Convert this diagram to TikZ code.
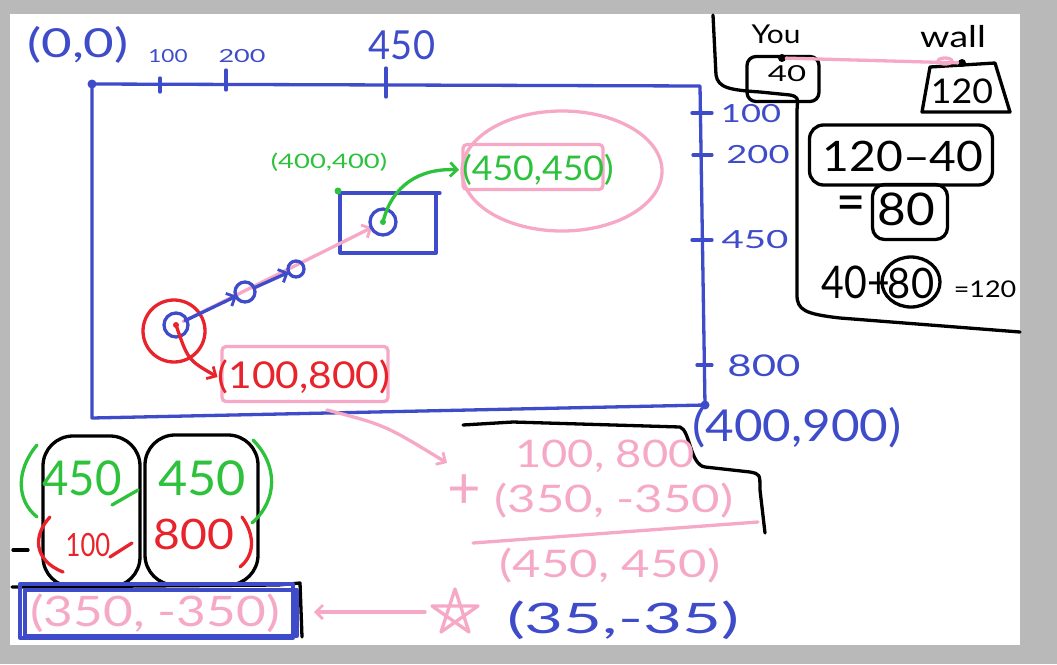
\documentclass[tikz,border=0pt]{standalone}
\usepackage{fontspec}
\setmainfont{Lato}
\usetikzlibrary{arrows.meta}
\definecolor{cblue}{RGB}{63,76,201}
\definecolor{cred}{RGB}{232,35,43}
\definecolor{cgreen}{RGB}{45,193,60}
\definecolor{cpink}{RGB}{246,169,198}
\definecolor{cgray}{RGB}{185,185,185}
\newcommand\hw[3]{\scalebox{#2}[1]{\fontsize{#1}{#1}\selectfont #3}}
\begin{document}
\begin{tikzpicture}[x=1pt,y=-1pt,
 pen/.style={line width=3.3pt,line cap=round,line join=round},
 bl/.style={pen,draw=cblue}, rd/.style={pen,draw=cred}, gr/.style={pen,draw=cgreen},
 pk/.style={pen,draw=cpink}, bk/.style={pen,draw=black},
 t/.style={inner sep=0pt,anchor=center},
 tb/.style={t,text=cblue}, tr/.style={t,text=cred}, tg/.style={t,text=cgreen},
 tp/.style={t,text=cpink}, tk/.style={t,text=black},
 barb/.style={-{Straight Barb[length=7pt,width=14pt,line width=2.8pt]}},
 dot/.style={circle,inner sep=0pt,minimum size=9pt},
]
\fill[cgray] (0,0) rectangle (1057,664);
\fill[white] (10,14) rectangle (1020,645);
\useasboundingbox (0,0) rectangle (1057,664);

% ---------- main frame ----------
\node[dot,fill=cblue] (origin) at (92,84) {};
\node[dot,fill=cblue] (corner) at (705,405) {};
\draw[bl] (origin.center) -- (700,86) -- (corner.center) -- (92,418) -- cycle;
\node[tb] (l00) at (78,45) {\hw{40}{1.32}{(0,0)}};
\node[tb] (lx100) at (168,56) {\hw{18}{1.25}{100}};
\node[tb] (lx200) at (242,56) {\hw{18}{1.5}{200}};
\node[tb] (lx450) at (402,45) {\hw{40}{0.95}{450}};
\draw[bl] (160,78) -- (160,92);
\draw[bl] (226,70) -- (226,90);
\draw[bl] (386,68) -- (386,97);
\draw[bl] (692,113) -- (712,113);
\draw[bl] (693,155) -- (712,155);
\draw[bl] (692,240) -- (712,240);
\draw[bl] (697,365) -- (712,365);
\node[tb] (ly100) at (751,114) {\hw{25}{1.38}{100}};
\node[tb] (ly200) at (758,155) {\hw{25}{1.45}{200}};
\node[tb] (ly450) at (755,240) {\hw{25}{1.54}{450}};
\node[tb] (ly800) at (764,366) {\hw{30}{1.4}{800}};
\node[tb] (l900) at (797,428) {\hw{44}{1.12}{(400,900)}};

% ---------- inner target box ----------
\draw[bl] (340,193) -- (440,193);
\draw[bl] (436,193) -- (436,253) -- (340,253) -- (340,193);
\coordinate (s) at (176,325);
\coordinate (c1) at (245,292);
\coordinate (c2) at (296,269);
\coordinate (tgt) at (383,222);
\draw[pk,barb,shorten <=8pt,shorten >=12pt] (s) -- (tgt);
\draw[rd] (174,331) circle[radius=31];
\draw[bl] (s) circle[radius=12];
\draw[bl] (c1) circle[radius=10];
\draw[bl] (c2) circle[radius=8];
\draw[bl] (tgt) circle[radius=13];
\draw[bl,barb,shorten <=10pt,shorten >=9pt] (s) -- (c1);
\draw[bl,barb,shorten <=10pt,shorten >=8pt] (c1) -- (c2);
\fill[cred] (s) circle[radius=3];
\fill[cgreen] (tgt) circle[radius=3];

% red start label
\node[draw=cpink,pen,rounded corners=4pt,minimum width=166pt,minimum height=55pt] (pkbox1) at (305,374) {};
\node[tr] (r800) at (304,377) {\hw{37}{1.1}{(100,800)}};
\draw[rd,barb] (s) .. controls (188,360) .. (r800.west);

% green labels
\node[dot,fill=cgreen,minimum size=7pt] (g400d) at (338,191) {};
\node[tg] (g400) at (329,162) {\hw{20}{1.37}{(400,400)}};
\draw[pk] (562,171) ellipse[x radius=100,y radius=60];
\node[draw=cpink,pen,rounded corners=4pt,minimum width=140pt,minimum height=45pt] (pkbox2) at (533,167) {};
\node[tg] (g450) at (538,170) {\hw{34}{1.05}{(450,450)}};
\draw[gr,barb,shorten >=3pt] (tgt) .. controls (392,185) and (420,168) .. (g450.west);

% ---------- right panel ----------
\draw[bk] (713,15) -- (716,75) .. controls (718,88) and (730,90) .. (760,92) -- (790,95)
  .. controls (798,97) .. (797,110) -- (797,295) .. controls (797,310) and (805,314) .. (840,318) -- (1020,332);
\node[tk] (you) at (776,34) {\hw{26}{1.15}{You}};
\node[tk] (wall) at (953,37) {\hw{30}{1.25}{wall}};
\node[draw,pen,rounded corners=9pt,minimum width=72pt,minimum height=45pt] (b40) at (783,79) {};
\node[tk] (n40) at (787,74) {\hw{22}{1.5}{40}};
\draw[bk] (930,67) -- (995,63) -- (1010,112) -- (922,112) -- cycle;
\node[tk] (n120) at (962,91) {\hw{34}{1.05}{120}};
\node[dot,fill=black,minimum size=8pt] (d40) at (782,58) {};
\node[dot,fill=black,minimum size=8pt] (dw) at (962,63) {};
\draw[pk] (d40) -- (dw);
\draw[pk] (945,61) ellipse[x radius=7,y radius=3];
\node[draw,pen,rounded corners=14pt,minimum width=183pt,minimum height=60pt] (bsub) at (901,155) {};
\node[tk] (sub) at (903,156) {\hw{42}{1.1}{120–40}};
\node[draw,pen,rounded corners=12pt,minimum width=75pt,minimum height=55pt] (b80) at (910,212) {};
\node[tk] (eq) at (851,209) {\hw{56}{0.9}{=}};
\node[tk] (n80) at (906,209) {\hw{45}{1.1}{80}};
\node[tk] (n40p) at (856,282) {\hw{45}{0.87}{40+}};
\draw[bk] (911,282) ellipse[x radius=29,y radius=25];
\node[tk] (n80b) at (911,283) {\hw{42}{0.95}{80}};
\node[tk] (n120b) at (985,289) {\hw{23}{1.17}{=120}};

% ---------- bottom left ----------
\draw[bk] (12,587) -- (278,585) -- (300,583) -- (302,637);
\draw[bk] (13,550) -- (28,550);
\draw[bk,rounded corners=30pt] (43,436) rectangle (140,587);
\draw[bk,rounded corners=30pt] (145,435) rectangle (258,585);
\draw[gr] (37,445) .. controls (16,470) and (16,500) .. (37,517);
\node[tg] (g1) at (82,478) {\hw{48}{0.95}{450}};
\draw[gr] (112,505) -- (138,490);
\node[tg] (g2) at (202,478) {\hw{48}{1.05}{450}};
\draw[gr] (253,440) .. controls (278,465) and (278,500) .. (252,523);
\draw[rd] (50,517) .. controls (33,535) and (33,560) .. (63,572);
\node[tr] (r1) at (88,545) {\hw{32}{0.8}{100}};
\draw[rd] (110,557) -- (132,543);
\node[tr] (r2) at (194,534) {\hw{42}{1.1}{800}};
\draw[rd] (242,517) .. controls (255,535) and (255,555) .. (240,567);
\node[tp] (p350) at (155,613) {\hw{42}{1.22}{(350, -350)}};
\draw[bl] (20,584) rectangle (293,638);
\draw[bl] (25,590) rectangle (297,636);

% ---------- sum ----------
\draw[bk] (463,425) -- (513,422) -- (680,427) .. controls (690,430) and (690,465) .. (705,467)
  -- (750,472) .. controls (760,474) .. (760,490) -- (765,533);
\coordinate (ca) at (327,410);
\coordinate (cb) at (447,463);
\draw[pk,barb] (ca) .. controls (385,425) .. (cb);
\node[tp] (s1) at (605,456) {\hw{38}{1.19}{100, 800}};
\node[tp] (plus) at (464,492) {\hw{58}{1}{+}};
\node[tp] (s2) at (614,501) {\hw{38}{1.29}{(350, -350)}};
\draw[pk] (473,543) -- (758,522);
\node[tp] (s3) at (610,566) {\hw{38}{1.29}{(450, 450)}};

% ---------- bottom row ----------
\draw[pk] (455,589) -- (441,632) -- (478,606) -- (432,606) -- (469,632) -- cycle;
\coordinate (star) at (425,612);
\draw[pk,barb] (star) -- (314,612);
\node[tb] (n35) at (623,620) {\hw{42}{1.6}{(35,-35)}};
\end{tikzpicture}
\end{document}
